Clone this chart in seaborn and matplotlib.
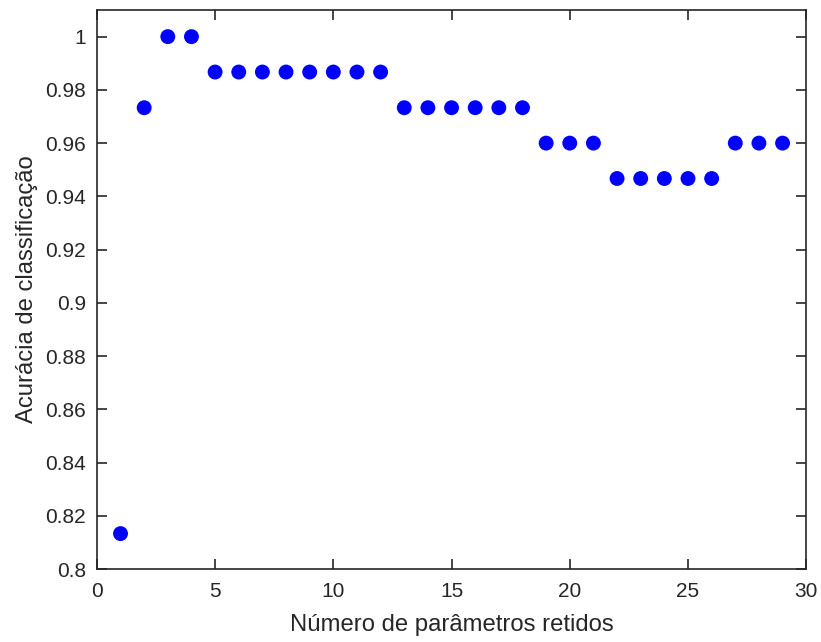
import numpy as np
import pandas as pd
import matplotlib
matplotlib.use('Agg')
import matplotlib.pyplot as plt
import seaborn as sns

# Acurácia por número de parâmetros retidos
n_param = list(range(1, 30))
acuracia = [0.8133, 0.9733, 1.0, 1.0, 0.9867, 0.9867, 0.9867, 0.9867, 0.9867,
            0.9867, 0.9867, 0.9867, 0.9733, 0.9733, 0.9733, 0.9733, 0.9733,
            0.9733, 0.96, 0.96, 0.96, 0.9467, 0.9467, 0.9467, 0.9467, 0.9467,
            0.96, 0.96, 0.96]
yticks = [0.8, 0.82, 0.84, 0.86, 0.88, 0.9, 0.92, 0.94, 0.96, 0.98, 1.0]
ytick_labels = ['0.8', '0.82', '0.84', '0.86', '0.88', '0.9', '0.92',
                '0.94', '0.96', '0.98', '1']

df = pd.DataFrame({'n': n_param, 'acc': acuracia})

sns.set_style('ticks')
plt.rcParams['font.family'] = ['Liberation Sans', 'DejaVu Sans']
cinza = '#262626'

fig = plt.figure(figsize=(8.21, 6.42), dpi=100)
ax = fig.add_axes([0.118, 0.1137, 0.864, 0.8707])

sns.scatterplot(data=df, x='n', y='acc', ax=ax, color='#0000ff', s=115,
                edgecolor='none', linewidth=0)

ax.set_xlim(0, 30)
ax.set_ylim(0.8, 1.01)
ax.set_xticks([0, 5, 10, 15, 20, 25, 30])
ax.set_yticks(yticks)
ax.set_yticklabels(ytick_labels)
ax.tick_params(direction='in', length=7, width=1.2, colors=cinza,
               labelsize=15, top=True, right=True)
ax.tick_params(axis='x', pad=9)
ax.tick_params(axis='y', pad=8)
for s in ax.spines.values():
    s.set_color(cinza)
    s.set_linewidth(1.2)

ax.set_xlabel('Número de parâmetros retidos', fontsize=17.2, color=cinza,
              labelpad=10)
ax.set_ylabel('Acurácia de classificação', fontsize=17.2, color=cinza,
              labelpad=5)

fig.savefig('out.png', dpi=100)
